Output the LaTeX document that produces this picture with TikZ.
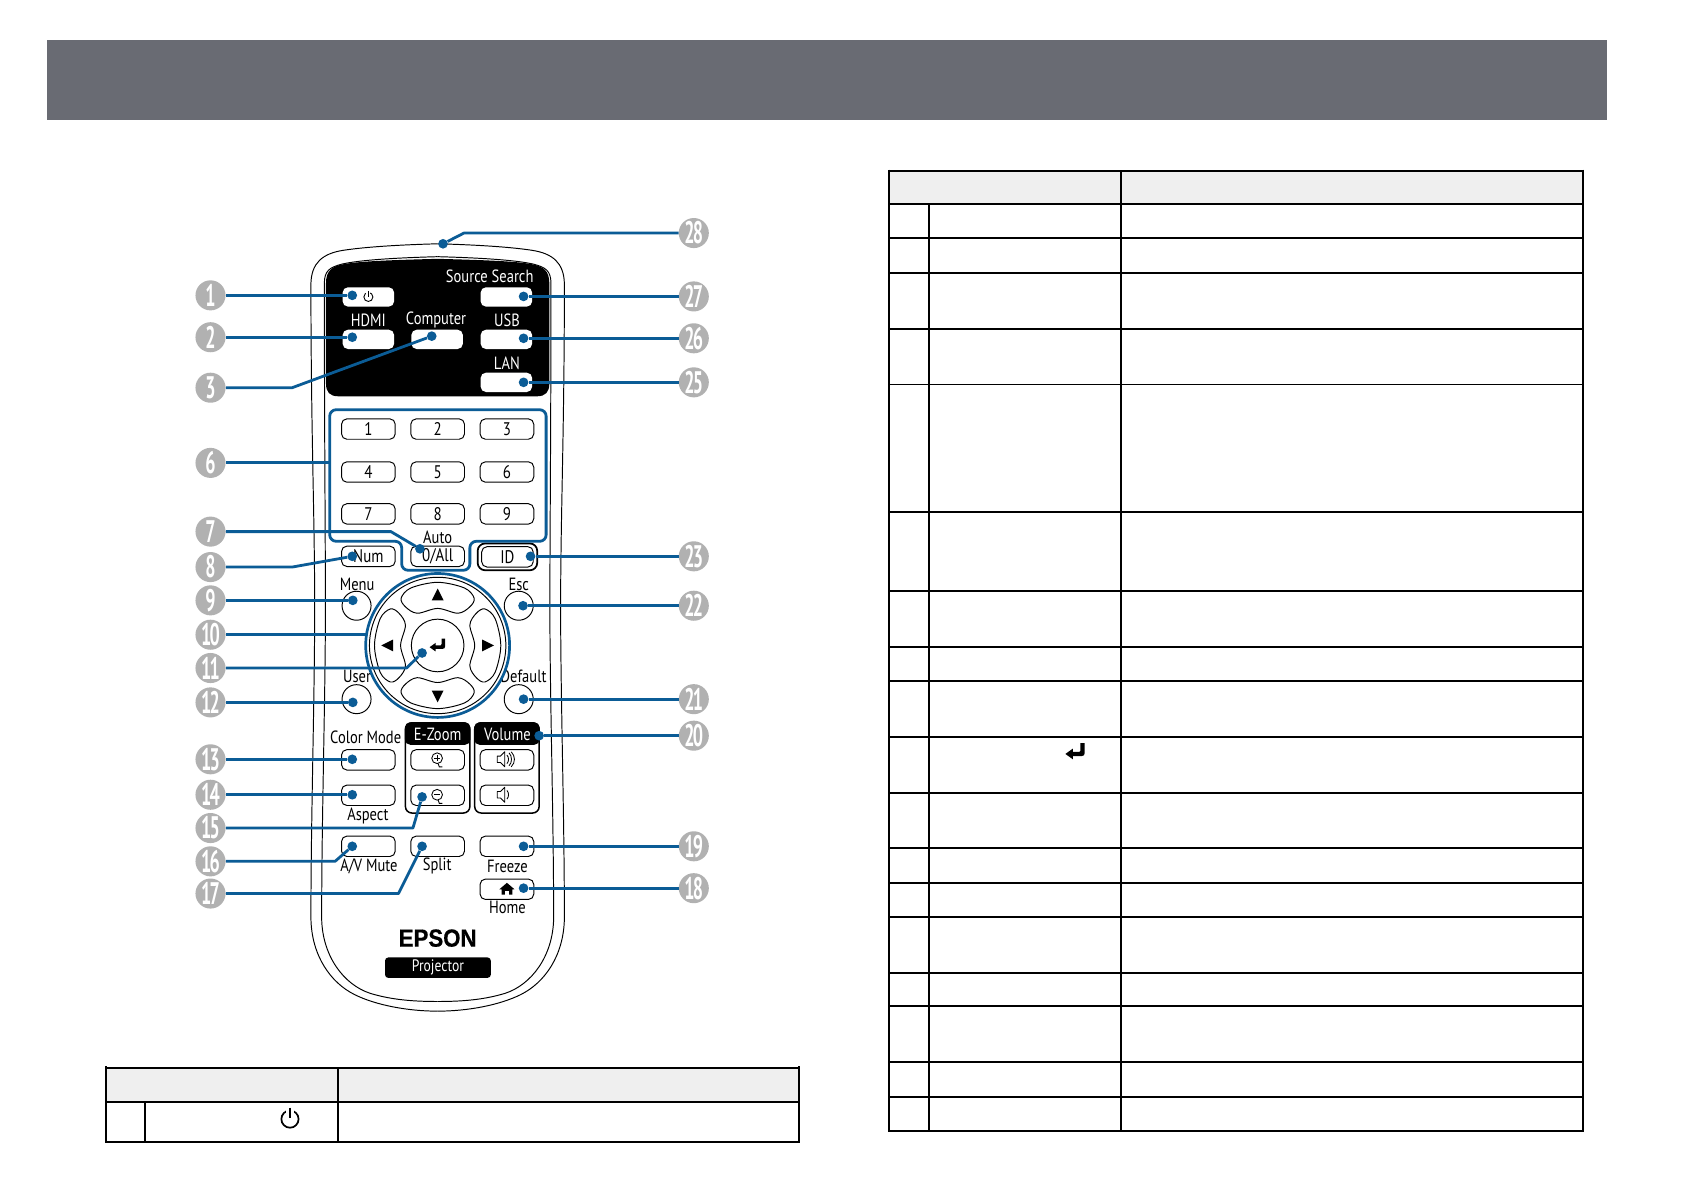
\documentclass[tikz,border=0pt]{standalone}
\usepackage{fontspec}
\setmainfont{Liberation Sans}
\newfontfamily\cond[FakeStretch=0.82]{PT Sans}
\newfontfamily\tagf[FakeStretch=0.58,LetterSpace=-6]{PT Sans}
\newfontfamily\epf[FakeStretch=0.9,FakeBold=0.6]{Liberation Sans}
\definecolor{barc}{HTML}{696B73}
\definecolor{tagc}{HTML}{B1B1B1}
\definecolor{leadc}{HTML}{0B5C96}
\definecolor{headc}{HTML}{EFEFEF}
\tikzset{
  btn/.style={draw=black,line width=0.9pt,rounded corners=5pt,fill=white,inner sep=0pt,minimum width=50pt,minimum height=19pt,font=\cond\fontsize{17}{17}\selectfont},
  wbtn/.style={fill=white,rounded corners=5pt,inner sep=0pt,minimum width=48pt,minimum height=18pt},
  rtxt/.style={inner sep=0pt,font=\cond\fontsize{16.5}{16.5}\selectfont},
  wtxt/.style={rtxt,text=white},
  rnd/.style={draw=black,line width=0.9pt,circle,fill=white,inner sep=0pt,minimum size=27pt},
  tag/.style={circle,fill=tagc,text=white,inner sep=0pt,minimum size=28pt,font=\tagf\bfseries\fontsize{29}{29}\selectfont},
  lead/.style={draw=leadc,line width=2.6pt,line join=round},
  dotn/.style={circle,fill=leadc,inner sep=0pt,minimum size=9pt},
  tline/.style={draw=black,line width=1.8pt},
  outl/.style={draw=black,line width=0.9pt},
}
\newcommand{\enterglyph}[3]{\fill[shift={(#1,#2)},scale=#3] (4,-8) -- (8,-8) -- (8,1) .. controls (8,3) and (7,4) .. (5,4) -- (-3,4) -- (-3,7) -- (-10,2) -- (-3,-3) -- (-3,0) -- (3,0) .. controls (4,0) and (4,-1) .. (4,-2) -- cycle;}
\newcommand{\powerglyph}[3]{%
  \draw[line width=#3*0.2pt] (#1,#2) circle[radius=#3];
  \fill[white] (#1-#3*0.45,#2-#3*1.3) rectangle (#1+#3*0.45,#2-#3*0.5);
  \draw[line width=#3*0.2pt] (#1,#2-#3*1.35) -- (#1,#2-#3*0.1);}
\newcommand{\padkey}[1]{\draw[rotate around={#1:(407.5,601)},line width=0.9pt,fill=white] plot[smooth cycle,tension=0.55] coordinates {(442,601) (437.5,620) (443.5,631) (451.5,635) (461,626) (466.3,601) (461,576) (451.5,567) (443.5,571) (437.5,582)};}
\newcommand{\magglyph}[3]{%
  \draw[line width=0.8pt] (#1,#2) circle[radius=5];
  \draw[line width=0.8pt] (#1-3,#2) -- (#1+3,#2);
  \ifnum#3=1 \draw[line width=0.8pt] (#1,#2-3) -- (#1,#2+3);\fi
  \draw[line width=0.8pt] (#1+1,#2+5) -- (#1+2,#2+8) -- (#1+5,#2+8);}
\newcommand{\spkglyph}[3]{%
  \draw[line width=0.8pt,line join=round] (#1-7,#2-3) -- (#1-4,#2-3) -- (#1,#2-7) -- (#1,#2+7) -- (#1-4,#2+3) -- (#1-7,#2+3) -- cycle;
  \draw[line width=0.8pt] (#1+2,#2-4) .. controls (#1+4,#2-2) and (#1+4,#2+2) .. (#1+2,#2+4);
  \ifnum#3=1
  \draw[line width=0.8pt] (#1+4,#2-6) .. controls (#1+7,#2-3) and (#1+7,#2+3) .. (#1+4,#2+6);
  \draw[line width=0.8pt] (#1+6,#2-7) .. controls (#1+10,#2-3) and (#1+10,#2+3) .. (#1+6,#2+7);
  \fi}
\def\halfouter{(407.5,227) .. controls (370,228) and (340,230) .. (320,233) .. controls (300,236) and (290,245) .. (289.5,264) .. controls (289.5,400) and (293,480) .. (293,565) .. controls (293,650) and (289.5,760) .. (289.5,855) .. controls (290,890) and (308,915) .. (330,926) .. controls (350,936) and (380,941.5) .. (407.5,941.5)}
\def\halfinner{(407.5,239) .. controls (370,240) and (335,242) .. (318,246) .. controls (307,249) and (302,252) .. (302,264) .. controls (302,400) and (303,500) .. (303,565) .. controls (303,650) and (299.5,760) .. (299.5,855) .. controls (300,890) and (320,917) .. (345,925) .. controls (365,931) and (385,932.5) .. (407.5,932.5)}
\begin{document}
\begin{tikzpicture}[x=1pt,y=-1pt]
\useasboundingbox[fill=white] (0,0) rectangle (1568,1108);
% header bar
\fill[barc] (44,37) rectangle (1496,112);
% right table
\fill[headc] (828,159) rectangle (1474,190);
\foreach \yy in {159,190,222,254,306,358,477,550,602,634,686,738,790,822,854,906,937,989,1021,1053}
  \draw[tline] (827.1,\yy) -- (1474.9,\yy);
\draw[tline] (828,158) -- (828,1054);
\draw[tline] (865,190) -- (865,1053);
\draw[tline] (1044,159) -- (1044,1053);
\draw[tline] (1474,158) -- (1474,1054);
\enterglyph{1002}{700}{1}
% left table
\fill[headc] (99,994) rectangle (744,1026);
\foreach \yy in {994,1026,1063}
  \draw[tline] (98.1,\yy) -- (744.9,\yy);
\draw[tline] (99,993) -- (99,1064);
\draw[tline] (135,1026) -- (135,1063);
\draw[tline] (315,994) -- (315,1063);
\draw[tline] (744,993) -- (744,1064);
\powerglyph{270}{1042}{8}
% remote body
\draw[outl] \halfouter;
\draw[outl] \halfinner;
\begin{scope}[xshift=815pt,xscale=-1]
\draw[outl] \halfouter;
\draw[outl] \halfinner;
\end{scope}
% black panel
\fill[black] (407.5,241) .. controls (370,242) and (335,243) .. (320,246) .. controls (309,248) and (303.5,252) .. (303.5,264) -- (303.5,357) .. controls (303.5,365) and (307,369) .. (315,369) -- (500,369) .. controls (508,369) and (511.5,365) .. (511.5,357) -- (511.5,264) .. controls (511.5,252) and (506,248) .. (495,246) .. controls (480,243) and (445,242) .. (407.5,241) -- cycle;
\node[wbtn] (bpow) at (343,276.5) {};
\node[wbtn] (bhdmi) at (343,316) {};
\node[wbtn] (bcomp) at (407,316) {};
\node[wbtn] (busb) at (471.5,316) {};
\node[wbtn] (blan) at (471.5,356) {};
\node[wbtn] (bsrc) at (471.5,276.5) {};
\powerglyph{343}{276.5}{4.2}
\node[wtxt] (tsrc) at (456,257) {Source Search};
\node[wtxt] (thdmi) at (343,298) {HDMI};
\node[wtxt] (tcomp) at (406,298) {Computer};
\node[wtxt] (tusb) at (472,298) {USB};
\node[wtxt] (tlan) at (472,338) {LAN};
% number keys
\node[btn] (k1) at (343,399.5) {1};
\node[btn] (k2) at (407.5,399.5) {2};
\node[btn] (k3) at (472,399.5) {3};
\node[btn] (k4) at (343,439.5) {4};
\node[btn] (k5) at (407.5,439.5) {5};
\node[btn] (k6) at (472,439.5) {6};
\node[btn] (k7) at (343,478.5) {7};
\node[btn] (k8) at (407.5,478.5) {8};
\node[btn] (k9) at (472,478.5) {9};
\node[btn] (knum) at (343,518) {Num};
\node[btn] (k0) at (407.5,518) {0/All};
\node[rtxt] (tauto) at (407.5,500) {Auto};
\node[btn,line width=1.6pt,minimum width=55.5pt,minimum height=25pt,rounded corners=7pt] (kido) at (472.5,518.5) {};
\node[btn,minimum width=48pt,minimum height=19pt] (kid) at (472.5,518.5) {ID};
% menu keys
\node[rtxt] (tmenu) at (332.5,544) {Menu};
\node[rtxt] (tesc) at (483,544) {Esc};
\node[rtxt] (tuser) at (332.5,630) {User};
\node[rtxt] (tdef) at (487.5,630) {Default};
\node[rnd] (kmenu) at (332,564) {};
\node[rnd] (kesc) at (483,564) {};
\node[rnd] (kuser) at (332,651) {};
\node[rnd] (kdef) at (483,651) {};
% d-pad
\draw[fill=white,draw=leadc,line width=2.5pt] (407.5,601) circle[radius=67];
\draw[line width=0.9pt] (407.5,601) circle[radius=63.5];
\padkey{0}\padkey{90}\padkey{180}\padkey{270}
\draw[fill=white,line width=0.9pt] (407.5,601) circle[radius=24.5];
\fill (407.5,548) -- (413,559) -- (402,559) -- cycle;
\fill (407.5,654) -- (413,643) -- (402,643) -- cycle;
\fill (355,601) -- (366,595.5) -- (366,606.5) -- cycle;
\fill (460,601) -- (449,595.5) -- (449,606.5) -- cycle;
\enterglyph{408}{601}{0.8}
% e-zoom and volume
\draw[line width=1.4pt,rounded corners=6pt,fill=white] (377.5,673) rectangle (437.5,757);
\draw[line width=1.4pt,rounded corners=6pt,fill=white] (442,673) rectangle (502,757);
\fill[rounded corners=5pt] (377,672.5) -- (438,672.5) -- (438,682) -- (438,693.5) -- (377,693.5) -- cycle;
\fill[rounded corners=5pt] (441.5,672.5) -- (502.5,672.5) -- (502.5,682) -- (502.5,693.5) -- (441.5,693.5) -- cycle;
\node[wtxt] (tez) at (407.5,684) {E-Zoom};
\node[wtxt] (tvol) at (472.5,684) {Volume};
\node[rtxt] (tcm) at (340.5,686.5) {Color Mode};
\node[btn] (kcm) at (343,707.5) {};
\node[btn] (kzin) at (407.5,707.5) {};
\node[btn] (kvup) at (472,707.5) {};
\node[btn] (kasp) at (343,740.5) {};
\node[btn] (kzout) at (407.5,740.5) {};
\node[btn] (kvdn) at (472,740.5) {};
\magglyph{407}{706}{1}
\magglyph{407}{740}{0}
\spkglyph{470}{707}{1}
\spkglyph{470}{740}{0}
\node[rtxt] (tasp) at (342.5,760) {Aspect};
\node[btn] (kav) at (343,788) {};
\node[btn] (ksp) at (407.5,788) {};
\node[btn] (kfr) at (472,788) {};
\node[rtxt] (tav) at (343.5,806.5) {A/V Mute};
\node[rtxt] (tsp) at (407,806.5) {Split};
\node[rtxt] (tfr) at (472.5,806.5) {Freeze};
\node[btn] (khm) at (472,828) {};
\fill (472,822) -- (479,828) -- (477,828) -- (477,833) -- (474,833) -- (474,829.5) -- (470,829.5) -- (470,833) -- (467,833) -- (467,828) -- (465,828) -- cycle;
\node[rtxt] (thm) at (472.5,845) {Home};
% branding
\node[inner sep=0pt,font=\epf\bfseries\fontsize{23}{23}\selectfont] (tep) at (407.5,873.5) {EPSON};
\node[fill=black,text=white,rounded corners=3pt,inner sep=0pt,minimum width=98.5pt,minimum height=19pt,font=\cond\fontsize{15.5}{16}\selectfont] (tpr) at (407.75,901) {Projector};
% blue bracket
\draw[lead,rounded corners=6pt] (307,381.5) -- (508.5,381.5) -- (508.5,504) -- (437.5,504) -- (437.5,531) -- (374,531) -- (374,504) -- (307,504) -- cycle;
% tags
\foreach \nm/\yy in {1/275,2/314,3/361,6/431,7/495,8/528,9/559,10/591,11/622,12/654,13/707,14/740,15/771,16/802,17/832}
  \node[tag] (n\nm) at (196,\yy) {\nm};
\foreach \nm/\yy in {28/217,27/276,26/315,25/356,23/518,22/564,21/651,20/685,19/788,18/827}
  \node[tag] (n\nm) at (646,\yy) {\nm};
% dots
\foreach \nm/\xx/\yy in {1/328/275,2/328/314,3/402/313,7/391/511,8/328/518,9/328.5/559,11/393/608,12/328.5/654,13/328/707,14/328/740,15/393/742,16/328/788,17/393/788,18/487.5/827,19/487.5/788,20/502/685,21/487.5/651,22/487/564,23/494/518,25/487.5/356,26/487.5/315,27/487.5/276,28/412.5/227}
  \node[dotn] (d\nm) at (\xx,\yy) {};
\coordinate (e6) at (307,431);
\coordinate (e10) at (340.5,591);
\coordinate (c3) at (272,361);
\coordinate (c7) at (364,495);
\coordinate (c8) at (272,528);
\coordinate (c11) at (378.5,622);
\coordinate (c15) at (384.5,771);
\coordinate (c16) at (312,802);
\coordinate (c17) at (371,832);
\coordinate (c28) at (432,217);
% connectors
\draw[lead] (n1) -- (d1);
\draw[lead] (n2) -- (d2);
\draw[lead] (n3) -- (c3) -- (d3);
\draw[lead] (n6) -- (e6);
\draw[lead] (n7) -- (c7) -- (d7);
\draw[lead] (n8) -- (c8) -- (d8);
\draw[lead] (n9) -- (d9);
\draw[lead] (n10) -- (e10);
\draw[lead] (n11) -- (c11) -- (d11);
\draw[lead] (n12) -- (d12);
\draw[lead] (n13) -- (d13);
\draw[lead] (n14) -- (d14);
\draw[lead] (n15) -- (c15) -- (d15);
\draw[lead] (n16) -- (c16) -- (d16);
\draw[lead] (n17) -- (c17) -- (d17);
\draw[lead] (n18) -- (d18);
\draw[lead] (n19) -- (d19);
\draw[lead] (n20) -- (d20);
\draw[lead] (n21) -- (d21);
\draw[lead] (n22) -- (d22);
\draw[lead] (n23) -- (d23);
\draw[lead] (n25) -- (d25);
\draw[lead] (n26) -- (d26);
\draw[lead] (n27) -- (d27);
\draw[lead] (n28) -- (c28) -- (d28);
\end{tikzpicture}
\end{document}
